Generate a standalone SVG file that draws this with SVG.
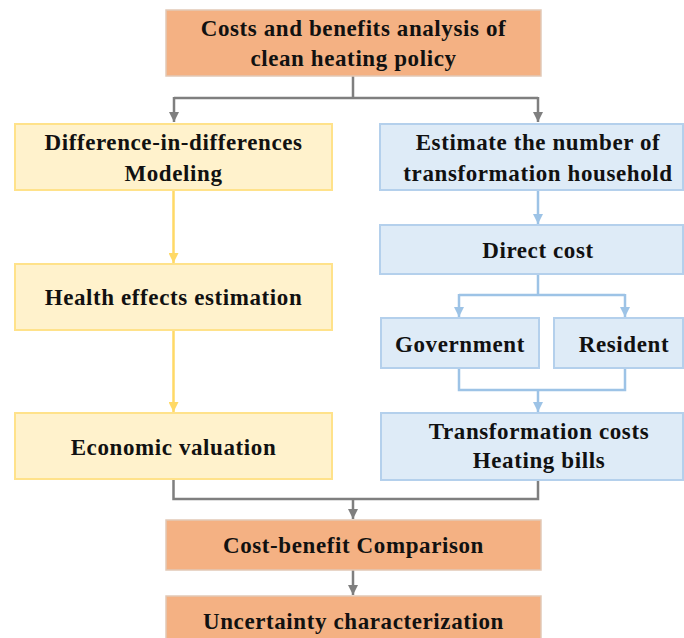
<svg xmlns="http://www.w3.org/2000/svg" width="684" height="638" viewBox="0 0 684 638">
  <style>
    .orange { fill: #F4B183; stroke: #E2C9B6; stroke-width: 1.5; }
    .yellow { fill: #FFF2CC; stroke: #FFE28A; stroke-width: 2; }
    .blue { fill: #DEEBF7; stroke: #B4D0EC; stroke-width: 2; }
    text { font-family: "Liberation Serif", "Times New Roman", serif; font-weight: bold; font-size: 23px; letter-spacing: 0.6px; fill: #111; text-anchor: middle; }
    .c-gray { stroke: #7F7F7F; stroke-width: 2.5; fill: none; }
    .c-yellow { stroke: #FFD966; stroke-width: 2.5; fill: none; }
    .c-blue { stroke: #9DC3E6; stroke-width: 2.5; fill: none; }
  </style>
  <defs>
    <marker id="ah-gray" viewBox="0 0 10 10" refX="10" refY="5" markerWidth="4" markerHeight="4" orient="auto" markerUnits="strokeWidth">
      <path d="M0,0 L10,5 L0,10 z" fill="#7F7F7F"/>
    </marker>
    <marker id="ah-yellow" viewBox="0 0 10 10" refX="10" refY="5" markerWidth="4" markerHeight="4" orient="auto" markerUnits="strokeWidth">
      <path d="M0,0 L10,5 L0,10 z" fill="#FFD966"/>
    </marker>
    <marker id="ah-blue" viewBox="0 0 10 10" refX="10" refY="5" markerWidth="4" markerHeight="4" orient="auto" markerUnits="strokeWidth">
      <path d="M0,0 L10,5 L0,10 z" fill="#9DC3E6"/>
    </marker>
  </defs>

  <g id="connectors">
    <!-- top split -->
    <path class="c-gray" d="M353,76 V98 M174,98 H538"/>
    <path class="c-gray" d="M174,97 V122" marker-end="url(#ah-gray)"/>
    <path class="c-gray" d="M538,97 V122" marker-end="url(#ah-gray)"/>
    <!-- left column -->
    <path class="c-yellow" d="M173.5,190 V263" marker-end="url(#ah-yellow)"/>
    <path class="c-yellow" d="M173.5,330 V412" marker-end="url(#ah-yellow)"/>
    <!-- right column -->
    <path class="c-blue" d="M538,190 V224" marker-end="url(#ah-blue)"/>
    <path class="c-blue" d="M538,274 V295 M459,295 H625"/>
    <path class="c-blue" d="M459,294 V317" marker-end="url(#ah-blue)"/>
    <path class="c-blue" d="M625,294 V317" marker-end="url(#ah-blue)"/>
    <path class="c-blue" d="M459,368 V390 H625 V368"/>
    <path class="c-blue" d="M538,389 V412" marker-end="url(#ah-blue)"/>
    <!-- merge -->
    <path class="c-gray" d="M173.5,479 V499 H538 V480"/>
    <path class="c-gray" d="M353,499 V519" marker-end="url(#ah-gray)"/>
    <path class="c-gray" d="M353,570 V595" marker-end="url(#ah-gray)"/>
  </g>

  <g id="node-analysis">
    <rect class="orange" x="166" y="10" width="375" height="66"/>
    <text x="353.5" y="36">Costs and benefits analysis of</text>
    <text x="353.5" y="66">clean heating policy</text>
  </g>

  <g id="node-did">
    <rect class="yellow" x="15" y="124" width="317" height="66"/>
    <text x="173.5" y="150">Difference-in-differences</text>
    <text x="173.5" y="181">Modeling</text>
  </g>

  <g id="node-health">
    <rect class="yellow" x="15" y="264" width="317" height="66"/>
    <text x="173.5" y="305">Health effects estimation</text>
  </g>

  <g id="node-economic">
    <rect class="yellow" x="15" y="413" width="317" height="66"/>
    <text x="173.5" y="455">Economic valuation</text>
  </g>

  <g id="node-estimate">
    <rect class="blue" x="380" y="124" width="303" height="66"/>
    <text x="538" y="150">Estimate the number of</text>
    <text x="538" y="181">transformation household</text>
  </g>

  <g id="node-direct">
    <rect class="blue" x="380" y="225" width="303" height="49"/>
    <text x="538" y="258">Direct cost</text>
  </g>

  <g id="node-government">
    <rect class="blue" x="381" y="318" width="158" height="50"/>
    <text x="460" y="352">Government</text>
  </g>

  <g id="node-resident">
    <rect class="blue" x="554" y="318" width="129" height="50"/>
    <text x="624" y="352">Resident</text>
  </g>

  <g id="node-transformation">
    <rect class="blue" x="381" y="413" width="302" height="67"/>
    <text x="539" y="439">Transformation costs</text>
    <text x="539" y="468">Heating bills</text>
  </g>

  <g id="node-comparison">
    <rect class="orange" x="166" y="520" width="375" height="50"/>
    <text x="353.5" y="553">Cost-benefit Comparison</text>
  </g>

  <g id="node-uncertainty">
    <rect class="orange" x="166" y="596" width="375" height="50"/>
    <text x="353.5" y="629">Uncertainty characterization</text>
  </g>
</svg>
